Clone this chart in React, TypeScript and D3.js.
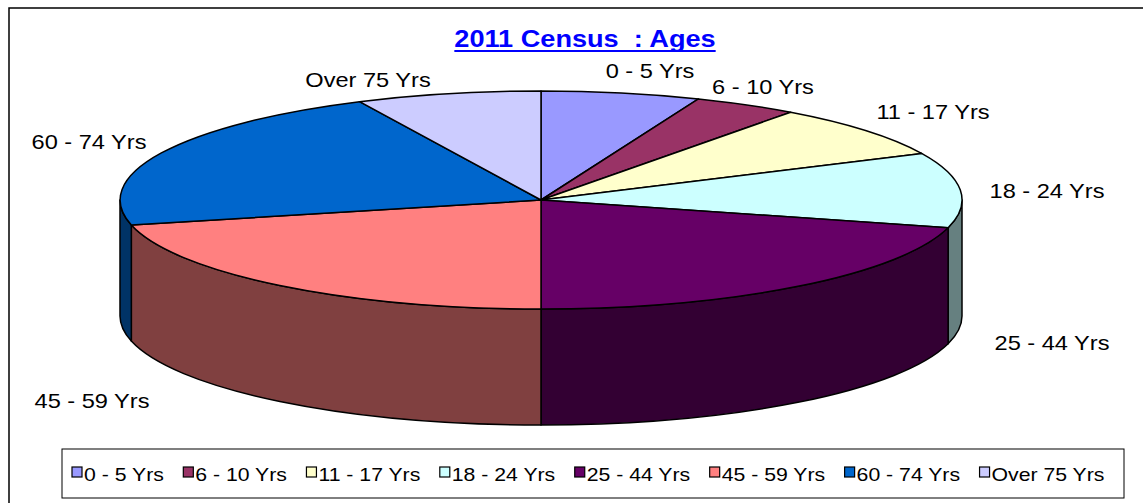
import React, { useEffect, useRef } from "react";
import * as d3 from "d3";

// 2011 Census age bands (share of population, %)
const categories = [
  "0 - 5 Yrs",
  "6 - 10 Yrs",
  "11 - 17 Yrs",
  "18 - 24 Yrs",
  "25 - 44 Yrs",
  "45 - 59 Yrs",
  "60 - 74 Yrs",
  "Over 75 Yrs",
];
const values = [6.1, 4.0, 7.9, 11.1, 20.9, 21.3, 21.6, 7.1];
const colors = ["#9999FF", "#993366", "#FFFFCC", "#CCFFFF", "#660066", "#FF8080", "#0066CC", "#CCCCFF"];
const title = "2011 Census  : Ages";

const W = 1143;
const H = 503;
const cx = 541;
const cy = 200;
const rx = 421;
const ry = 109;
const depth = 116;
const SX = 1.18; // the original text is a bit wider than Arial
const FONT = "Arial, 'Liberation Sans', sans-serif";

// label anchors (centre x, baseline) as placed by the original
const labelPos: [number, number][] = [
  [650, 78],
  [763, 94],
  [933, 119],
  [1047, 198],
  [1052, 350],
  [92, 408],
  [89, 149],
  [368, 87],
];

function darker(c: string) {
  const r = d3.rgb(c);
  return d3.rgb(r.r / 2, r.g / 2, r.b / 2).formatHex();
}

export default function App() {
  const ref = useRef<SVGSVGElement>(null);

  useEffect(() => {
    const svg = d3.select(ref.current);
    svg.selectAll("*").remove();

    svg.append("rect")
      .attr("x", 9).attr("y", 8)
      .attr("width", W).attr("height", H)
      .attr("fill", "white")
      .attr("stroke", "#000")
      .attr("stroke-width", 1.5);

    const arcs = d3.pie<number>().sort(null).value((d) => d)(values);
    const pt = (a: number) => [cx + rx * Math.sin(a), cy - ry * Math.cos(a)];

    // side walls, only the front half shows
    const sides = svg.append("g");
    arcs.forEach((a, i) => {
      const s = Math.max(a.startAngle, Math.PI / 2);
      const e = Math.min(a.endAngle, (3 * Math.PI) / 2);
      if (e <= s) return;
      const [x0, y0] = pt(s);
      const [x1, y1] = pt(e);
      const large = e - s > Math.PI ? 1 : 0;
      const d = `M${x0},${y0}A${rx},${ry} 0 ${large} 1 ${x1},${y1}` +
        `L${x1},${y1 + depth}A${rx},${ry} 0 ${large} 0 ${x0},${y0 + depth}Z`;
      sides.append("path")
        .attr("d", d)
        .attr("fill", darker(colors[i]))
        .attr("stroke", "#000")
        .attr("stroke-width", 1.5)
        .attr("stroke-linejoin", "round");
    });

    // top face
    const arc = d3.arc<d3.PieArcDatum<number>>().innerRadius(0).outerRadius(1);
    svg.append("g")
      .attr("transform", `translate(${cx},${cy}) scale(${rx},${ry})`)
      .selectAll("path")
      .data(arcs)
      .enter()
      .append("path")
      .attr("d", arc)
      .attr("fill", (d, i) => colors[i])
      .attr("stroke", "#000")
      .attr("stroke-width", 1.5)
      .attr("stroke-linejoin", "round")
      .attr("vector-effect", "non-scaling-stroke");

    // slice labels
    svg.append("g")
      .selectAll("text")
      .data(categories)
      .enter()
      .append("text")
      .attr("transform", (d, i) => `translate(${labelPos[i][0]},${labelPos[i][1]}) scale(${SX},1)`)
      .attr("text-anchor", "middle")
      .attr("font-family", FONT)
      .attr("font-size", 20)
      .attr("fill", "#000")
      .text((d) => d);

    // title
    const t = svg.append("text")
      .attr("transform", `translate(585,47) scale(${SX},1)`)
      .attr("text-anchor", "middle")
      .attr("font-family", FONT)
      .attr("font-size", 23)
      .attr("font-weight", "bold")
      .attr("fill", "#0000FF")
      .attr("xml:space", "preserve")
      .style("white-space", "pre")
      .text(title);
    const tw = (t.node() as SVGTextElement).getComputedTextLength() * SX;
    svg.append("line")
      .attr("x1", 585 - tw / 2).attr("x2", 585 + tw / 2)
      .attr("y1", 51).attr("y2", 51)
      .attr("stroke", "#0000FF")
      .attr("stroke-width", 2);

    // legend
    svg.append("rect")
      .attr("x", 62).attr("y", 449)
      .attr("width", 1062).attr("height", 49)
      .attr("fill", "white")
      .attr("stroke", "#000")
      .attr("stroke-width", 1);
    const lg = svg.append("g");
    let x = 72;
    categories.forEach((c, i) => {
      lg.append("rect")
        .attr("x", x).attr("y", 467)
        .attr("width", 10).attr("height", 10)
        .attr("fill", colors[i])
        .attr("stroke", "#000")
        .attr("stroke-width", 1.2);
      const tx = lg.append("text")
        .attr("transform", `translate(${x + 12},481) scale(${SX},1)`)
        .attr("font-family", FONT)
        .attr("font-size", 18)
        .attr("fill", "#000")
        .text(c);
      const w = (tx.node() as SVGTextElement).getComputedTextLength() * SX;
      x = x + 12 + w + 19.5;
    });
  }, []);

  return (
    <div style={{ position: "fixed", left: 0, top: 0 }}>
      <svg ref={ref} width={W} height={H} style={{ display: "block" }} />
    </div>
  );
}
